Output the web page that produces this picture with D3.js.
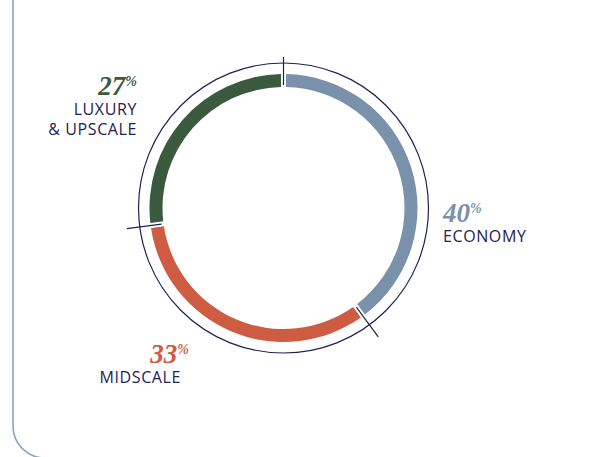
<!DOCTYPE html>
<html>
<head>
  <meta charset="utf-8">
  <title>Hotel segments</title>
  <script src="https://d3js.org/d3.v7.min.js"></script>
  <style>
    html, body { margin: 0; padding: 0; background: #fff; }
    .cat-label { font-family: "Open Sans", sans-serif; font-size: 16px; font-weight: 500; fill: #1f2152; letter-spacing: 0.6px; }
    .pct-label { font-family: "Liberation Serif", serif; font-weight: bold; font-style: italic; font-size: 27px; }
    .pct-sign { font-size: 14px; }
  </style>
</head>
<body>
  <svg id="chart" width="600" height="457"></svg>

  <script>
    // chart values
    const categories = ["ECONOMY", "MIDSCALE", "LUXURY & UPSCALE"];
    const shares = [40, 33, 27];
    const colors = ["#7a91ab", "#cd5c42", "#3b5a3d"];

    // label layout (anchor, x, y of the percentage line, lines of the name)
    const labelLayout = [
      { anchor: "start", x: 443, y: 222, lines: ["ECONOMY"] },
      { anchor: "end", x: 189, y: 363, lines: ["MIDSCALE"] },
      { anchor: "end", x: 137, y: 95, lines: ["LUXURY", "& UPSCALE"] }
    ];

    const svg = d3.select("#chart");
    const cx = 283.5, cy = 208;
    const innerR = 121, outerR = 134, ringR = 145;
    const navy = "#1f2152";

    // card border on the left, rounded at the bottom
    svg.append("path")
      .attr("d", "M13,0 V426 A32,32 0 0 0 45,458 H600")
      .attr("fill", "none")
      .attr("stroke", "#8ea3c0")
      .attr("stroke-width", 1.6);

    const g = svg.append("g").attr("transform", `translate(${cx},${cy})`);

    const pie = d3.pie().sort(null).value(d => d).padAngle(0.028);
    const arcs = pie(shares);
    const arc = d3.arc().innerRadius(innerR).outerRadius(outerR);

    // thin outer circle
    g.append("circle")
      .attr("r", ringR)
      .attr("fill", "none")
      .attr("stroke", navy)
      .attr("stroke-width", 1.2);

    g.selectAll("path.slice")
      .data(arcs)
      .enter().append("path")
      .attr("class", "slice")
      .attr("d", arc)
      .attr("fill", (d, i) => colors[i]);

    // tick marks on the slice boundaries
    const tickOuter = [151, 160, 158];
    g.selectAll("line.tick")
      .data(arcs)
      .enter().append("line")
      .attr("class", "tick")
      .attr("x1", d => Math.sin(d.startAngle) * (innerR + 2))
      .attr("y1", d => -Math.cos(d.startAngle) * (innerR + 2))
      .attr("x2", (d, i) => Math.sin(d.startAngle) * tickOuter[i])
      .attr("y2", (d, i) => -Math.cos(d.startAngle) * tickOuter[i])
      .attr("stroke", navy)
      .attr("stroke-width", 1.2);

    // labels
    labelLayout.forEach((l, i) => {
      const pct = svg.append("text")
        .attr("class", "pct-label")
        .attr("x", l.x)
        .attr("y", l.y)
        .attr("text-anchor", l.anchor)
        .attr("fill", colors[i]);
      pct.append("tspan").text(shares[i]);
      pct.append("tspan").attr("class", "pct-sign").attr("dy", -9).text("%");

      l.lines.forEach((line, j) => {
        svg.append("text")
          .attr("class", "cat-label")
          .attr("x", l.anchor === "end" && i === 1 ? l.x - 8 : l.x)
          .attr("y", l.y + 20 + j * 20)
          .attr("text-anchor", l.anchor)
          .text(line);
      });
    });
  </script>
</body>
</html>
